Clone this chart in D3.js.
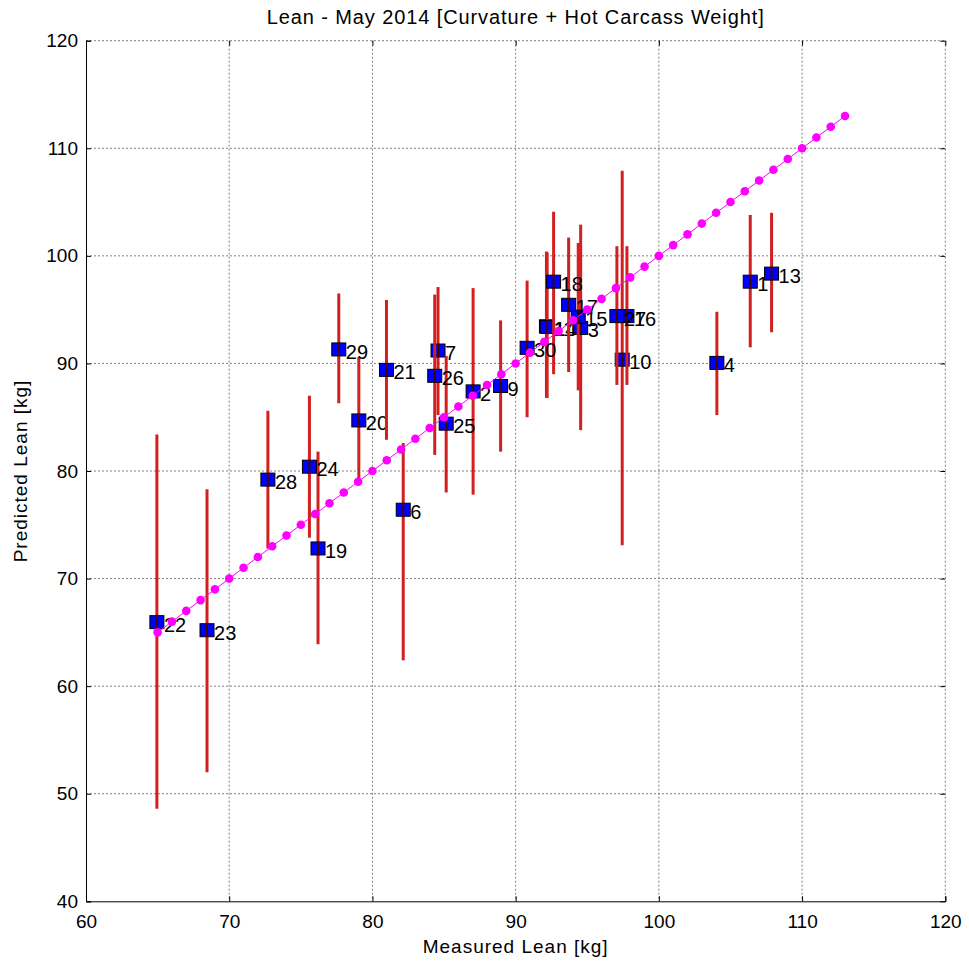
<!DOCTYPE html>
<html>
<head>
<meta charset="utf-8">
<script src="https://cdn.jsdelivr.net/npm/d3@7/dist/d3.min.js"></script>
<style>
  body { margin: 0; background: #fff; }
</style>
</head>
<body>
<div class="chart"></div>
<script>
// sample labels, measured lean, predicted lean and the ends of each error bar
const ids       = [1, 2, 3, 4, 6, 7, 9, 10, 11, 13, 14, 15, 16, 17, 18, 19, 20, 21, 22, 23, 24, 25, 26, 27, 28, 29, 30];
const measured  = [106.38, 87.03, 94.54, 104.05, 82.15, 84.58, 88.95, 97.44, 92.15, 107.87, 92.2, 94.37, 97.77, 93.7, 92.65, 76.2, 79.05, 80.98, 64.95, 68.45, 75.6, 85.15, 84.35, 97.07, 72.7, 77.65, 90.8];
const predicted = [97.6, 87.4, 93.3, 90.05, 76.4, 91.2, 87.9, 90.35, 93.45, 98.35, 93.4, 94.35, 94.4, 95.45, 97.6, 72.8, 84.7, 89.4, 65.95, 65.2, 80.4, 84.4, 88.85, 94.4, 79.2, 91.3, 91.45];
const barLow    = [91.5, 77.8, 83.8, 85.2, 62.4, 85.2, 81.8, 73.1, 86.8, 92.9, 86.8, 87.5, 88.0, 89.2, 89.0, 63.9, 79.2, 82.9, 48.6, 52.0, 73.8, 78.0, 81.5, 88.0, 72.8, 86.3, 85.0];
const barHigh   = [103.8, 97.0, 102.9, 94.8, 82.6, 97.1, 94.0, 107.9, 100.4, 104.0, 100.3, 101.2, 100.9, 101.7, 104.1, 81.8, 90.6, 95.9, 83.4, 78.3, 87.0, 90.7, 96.4, 100.9, 85.6, 96.5, 97.7];

// unity reference line points
const refX = [65, 66, 67, 68, 69, 70, 71, 72, 73, 74, 75, 76, 77, 78, 79, 80, 81, 82, 83, 84, 85, 86, 87, 88, 89, 90, 91, 92, 93, 94, 95, 96, 97, 98, 99, 100, 101, 102, 103, 104, 105, 106, 107, 108, 109, 110, 111, 112, 113];
const refY = [65, 66, 67, 68, 69, 70, 71, 72, 73, 74, 75, 76, 77, 78, 79, 80, 81, 82, 83, 84, 85, 86, 87, 88, 89, 90, 91, 92, 93, 94, 95, 96, 97, 98, 99, 100, 101, 102, 103, 104, 105, 106, 107, 108, 109, 110, 111, 112, 113];

const xTicks = [60, 70, 80, 90, 100, 110, 120];
const yTicks = [40, 50, 60, 70, 80, 90, 100, 110, 120];

const width = 969, height = 964;
const pLeft = 86, pRight = 945.3, pTop = 40.7, pBottom = 901.3;
const fontFamily = '"Liberation Sans", Arial, sans-serif';

let svg = d3.select('.chart')
    .append('svg')
    .attr('width', width)
    .attr('height', height)
    .attr('font-family', fontFamily);

let x = d3.scaleLinear().domain([60, 120]).range([pLeft, pRight]);
let y = d3.scaleLinear().domain([40, 120]).range([pBottom, pTop]);

// dotted grid, the top and right edges are grid lines too
let grid = svg.append('g')
    .attr('stroke', '#808080')
    .attr('stroke-width', 1)
    .attr('stroke-dasharray', '2,2');
grid.selectAll('.vgrid')
    .data(xTicks.slice(1))
    .join('line')
    .attr('class', 'vgrid')
    .attr('x1', d => x(d)).attr('x2', d => x(d))
    .attr('y1', pTop).attr('y2', pBottom);
grid.selectAll('.hgrid')
    .data(yTicks.slice(1))
    .join('line')
    .attr('class', 'hgrid')
    .attr('x1', pLeft).attr('x2', pRight)
    .attr('y1', d => y(d)).attr('y2', d => y(d));

// axes with inward ticks
const tickFont = g => g.selectAll('text')
    .attr('font-size', 19)
    .attr('fill', '#000');

svg.append('g')
    .attr('transform', `translate(0, ${pBottom})`)
    .call(d3.axisBottom(x).tickValues(xTicks).tickSize(-5).tickPadding(13))
    .call(g => g.selectAll('.domain').attr('stroke', '#000'))
    .call(tickFont)
    .call(g => g.attr('font-family', fontFamily));

svg.append('g')
    .attr('transform', `translate(${pLeft}, 0)`)
    .call(d3.axisLeft(y).tickValues(yTicks).tickSize(-5).tickPadding(8))
    .call(g => g.selectAll('.domain').attr('stroke', '#000'))
    .call(tickFont)
    .call(g => g.attr('font-family', fontFamily));

svg.append('g')
    .attr('transform', `translate(0, ${pTop})`)
    .call(d3.axisTop(x).tickValues(xTicks).tickSize(-5).tickFormat(''))
    .call(g => g.select('.domain').remove());

svg.append('g')
    .attr('transform', `translate(${pRight}, 0)`)
    .call(d3.axisRight(y).tickValues(yTicks).tickSize(-5).tickFormat(''))
    .call(g => g.select('.domain').remove());

// one group per sample: error bar, marker, label
let data = ids.map((id, i) => ({
    id: id, m: measured[i], p: predicted[i], lo: barLow[i], hi: barHigh[i]
}));

let pts = svg.append('g')
    .selectAll('g')
    .data(data)
    .join('g');

pts.append('line')
    .attr('x1', d => x(d.m)).attr('x2', d => x(d.m))
    .attr('y1', d => y(d.lo)).attr('y2', d => y(d.hi))
    .attr('stroke', '#d21f1f')
    .attr('stroke-width', 3);

pts.append('rect')
    .attr('x', d => x(d.m) - 7)
    .attr('y', d => y(d.p) - 6.5)
    .attr('width', 14)
    .attr('height', 13)
    .attr('fill', '#0000ff')
    .attr('stroke', '#000')
    .attr('stroke-width', 1);

pts.append('line')
    .attr('x1', d => x(d.m)).attr('x2', d => x(d.m))
    .attr('y1', d => y(d.p) - 6.5).attr('y2', d => y(d.p) + 6.5)
    .attr('stroke', '#3a0505')
    .attr('stroke-width', 2);

pts.append('text')
    .attr('x', d => x(d.m) + 7)
    .attr('y', d => y(d.p) + 9.5)
    .attr('font-size', 20)
    .text(d => d.id);

// magenta reference line
let ref = refX.map((v, i) => [v, refY[i]]);
svg.append('path')
    .datum(ref)
    .attr('d', d3.line().x(d => x(d[0])).y(d => y(d[1])))
    .attr('fill', 'none')
    .attr('stroke', '#ff00ff')
    .attr('stroke-width', 1);
svg.append('g')
    .selectAll('circle')
    .data(ref)
    .join('circle')
    .attr('cx', d => x(d[0]))
    .attr('cy', d => y(d[1]))
    .attr('r', 4.3)
    .attr('fill', '#ff00ff');

// titles
svg.append('text')
    .attr('x', (pLeft + pRight) / 2)
    .attr('y', 24)
    .attr('text-anchor', 'middle')
    .attr('font-size', 20)
    .attr('letter-spacing', '0.9px')
    .text('Lean - May 2014 [Curvature + Hot Carcass Weight]');

svg.append('text')
    .attr('x', (pLeft + pRight) / 2)
    .attr('y', 953)
    .attr('text-anchor', 'middle')
    .attr('font-size', 19)
    .attr('letter-spacing', '1px')
    .text('Measured Lean [kg]');

svg.append('text')
    .attr('transform', `translate(27, ${(pTop + pBottom) / 2}) rotate(-90)`)
    .attr('text-anchor', 'middle')
    .attr('font-size', 19)
    .attr('letter-spacing', '1px')
    .text('Predicted Lean [kg]');
</script>
</body>
</html>
